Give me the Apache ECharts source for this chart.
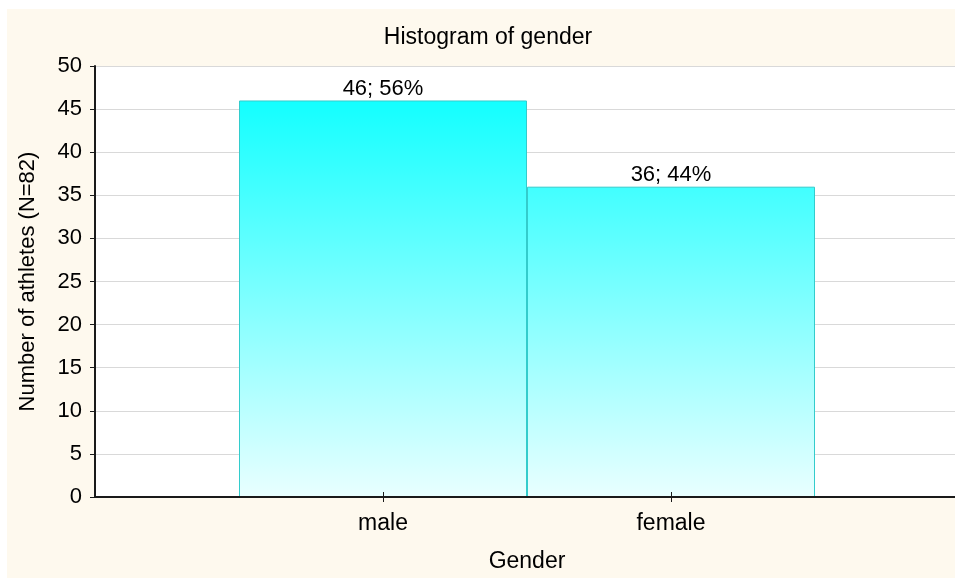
<!DOCTYPE html>
<html>
<head>
<meta charset="utf-8">
<script src="https://cdn.jsdelivr.net/npm/echarts@6/dist/echarts.min.js"></script>
<style>
  html, body { margin: 0; padding: 0; background: #ffffff; overflow: hidden; width: 955px; height: 578px; }
  #main { position: absolute; left: 7px; top: 9px; width: 955px; height: 569px; }
</style>
</head>
<body>
<div id="main"></div>
<script>
var chartDom = document.getElementById('main');
var myChart = echarts.init(chartDom);
var option;

// slots: empty edge, male, female, empty edge
var categories = ['', 'male', 'female', ''];
var counts = ['-', 46, 36, '-'];
var shares = ['', '56%', '44%', ''];
var yTicks = [0, 5, 10, 15, 20, 25, 30, 35, 40, 45, 50];

var font = 'Liberation Sans, Arial, sans-serif';
var showTick = function (idx, val) { return val !== ''; };

option = {
  backgroundColor: '#fef9ee',
  animation: false,
  textStyle: { fontFamily: font },
  title: {
    text: 'Histogram of gender',
    left: 481,
    top: 17,
    padding: 0,
    textAlign: 'center',
    textStyle: { fontFamily: font, fontSize: 23, fontWeight: 'normal', color: '#000' }
  },
  grid: { left: 88, top: 57, right: 3, bottom: 79, backgroundColor: '#fff', show: true, borderWidth: 0 },
  xAxis: [
    {
      type: 'category',
      data: categories,
      boundaryGap: false,
      name: 'Gender',
      nameLocation: 'middle',
      nameGap: 53,
      nameTextStyle: { fontFamily: font, fontSize: 23, color: '#000' },
      axisLine: { lineStyle: { color: '#1a1a1a', width: 2 } },
      axisTick: { inside: true, length: 5, interval: showTick, lineStyle: { color: '#1a1a1a' } },
      axisLabel: { fontFamily: font, fontSize: 23, color: '#000', margin: 15, interval: 0 },
      splitLine: { show: false },
      z: 10
    },
    {
      type: 'category',
      data: categories,
      boundaryGap: false,
      position: 'top',
      axisLine: { lineStyle: { color: '#1a1a1a', width: 2 } },
      axisTick: { inside: true, length: 5, interval: showTick, lineStyle: { color: '#1a1a1a' } },
      axisLabel: { show: false },
      splitLine: { show: false },
      z: 10
    }
  ],
  yAxis: [
    {
      type: 'value',
      min: yTicks[0],
      max: yTicks[yTicks.length - 1],
      interval: 5,
      name: 'Number of athletes (N=82)',
      nameLocation: 'middle',
      nameGap: 56,
      nameTextStyle: { fontFamily: font, fontSize: 22, color: '#000' },
      axisLine: { show: true, lineStyle: { color: '#1a1a1a', width: 2 } },
      axisTick: { show: true, length: 5, lineStyle: { color: '#1a1a1a' } },
      axisLabel: { fontFamily: font, fontSize: 22, color: '#000', margin: 13 },
      splitLine: { show: true, lineStyle: { color: '#d9d9d9', width: 1 } }
    },
    {
      type: 'value',
      min: yTicks[0],
      max: yTicks[yTicks.length - 1],
      interval: 5,
      position: 'right',
      axisLine: { show: false },
      axisTick: { show: true, inside: true, length: 3, lineStyle: { color: '#1a1a1a' } },
      axisLabel: { show: false },
      splitLine: { show: false }
    }
  ],
  series: [
    {
      type: 'bar',
      data: counts,
      barWidth: '100%',
      itemStyle: {
        color: new echarts.graphic.LinearGradient(0, 57, 0, 490, [
          { offset: 0, color: '#00ffff' },
          { offset: 1, color: '#eaffff' }
        ], true),
        borderColor: '#33cccc',
        borderWidth: 1
      },
      label: {
        show: true,
        position: 'top',
        distance: 1,
        fontFamily: font,
        fontSize: 22,
        color: '#000',
        formatter: function (p) { return p.value + '; ' + shares[p.dataIndex]; }
      }
    }
  ]
};

option && myChart.setOption(option);
</script>
</body>
</html>
